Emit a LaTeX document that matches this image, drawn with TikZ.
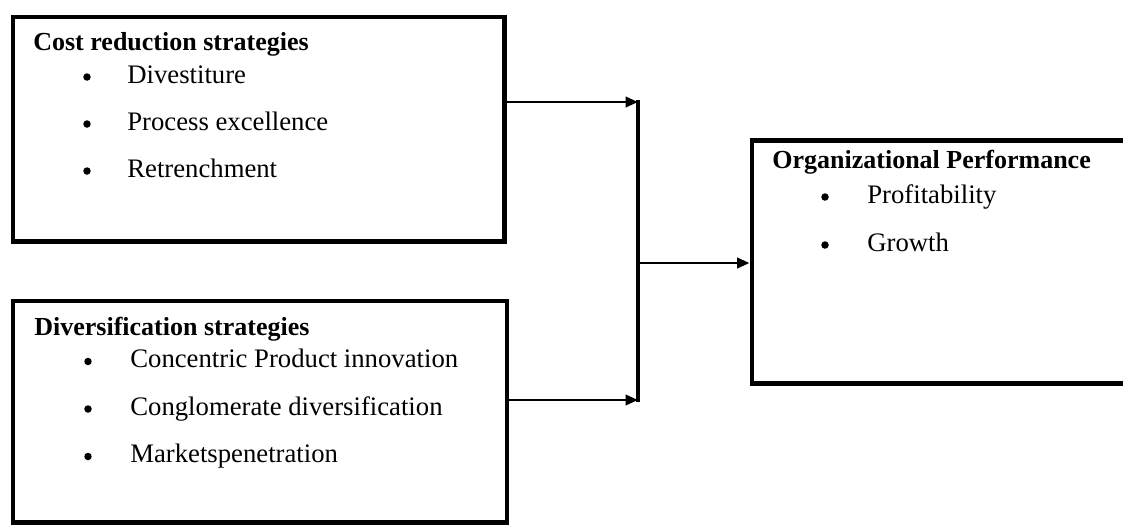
\documentclass[tikz,border=0pt]{standalone}
\usepackage{fontspec}
\setmainfont{Liberation Serif}
\usepackage{tikz}
\usetikzlibrary{arrows.meta,positioning,calc}
\tikzset{
  %% Boxes
  blkbox/.style={draw=black, line width=2.6pt, inner sep=0pt, anchor=north west},
  %% Texts in the boxes
  hdtext/.style={anchor=base west, inner sep=0pt, font=\fontsize{14.8}{17}\selectfont\bfseries},
  ittext/.style={anchor=base west, inner sep=0pt, font=\fontsize{15.2}{17}\selectfont},
  bulldot/.style={circle, fill=black, inner sep=0pt, minimum size=0.15cm},
  %% Connectors
  feed/.style={-{Triangle[length=0.25cm, width=0.21cm]}, line width=1.5pt},
  busline/.style={line width=2.3pt, line cap=rect},
}
\begin{document}
\begin{tikzpicture}[x=0.02cm, y=-0.02cm]
\useasboundingbox (0,0) rectangle (1123,525);

%% Boxes
\node[blkbox, minimum width=9.84cm, minimum height=4.49cm] (cost) at (10.5,14.5) {};
\node[blkbox, minimum width=9.89cm, minimum height=4.43cm] (divers) at (10.5,298.5) {};
\node[blkbox, minimum width=7.7cm,  minimum height=4.86cm] (perf) at (749.5,138) {};

%% Cost reduction strategies
\node[hdtext] (costT) at (33,50) {Cost reduction strategies};
\foreach \t [count=\i] in {Divestiture, Process excellence, Retrenchment} {
  \node[bulldot] (costB\i) at (87,30+47*\i) {};
  \node[ittext]  (costI\i) at (127,36+47*\i) {\t};
}

%% Diversification strategies
\node[hdtext] (diversT) at (34,335) {Diversification strategies};
\foreach \t [count=\i] in {Concentric Product innovation, Conglomerate diversification, Marketspenetration} {
  \node[bulldot] (diversB\i) at (88,314+47.5*\i) {};
  \node[ittext]  (diversI\i) at (130,320+47.5*\i) {\t};
}

%% Organizational Performance
\node[hdtext] (perfT) at (772,168) {Organizational Performance};
\foreach \t [count=\i] in {Profitability, Growth} {
  \node[bulldot] (perfB\i) at (825,149+48*\i) {};
  \node[ittext]  (perfI\i) at (867,155+48*\i) {\t};
}

%% Connectors
\coordinate (jtop) at (638,102);
\coordinate (jmid) at (638,263);
\coordinate (jbot) at (638,400);
\draw[busline] (jtop) -- (jbot);
\draw[feed] (cost.east |- jtop) -- (jtop);
\draw[feed] (divers.east |- jbot) -- (jbot);
\draw[feed] (jmid) -- (perf.west |- jmid);

\end{tikzpicture}
\end{document}
